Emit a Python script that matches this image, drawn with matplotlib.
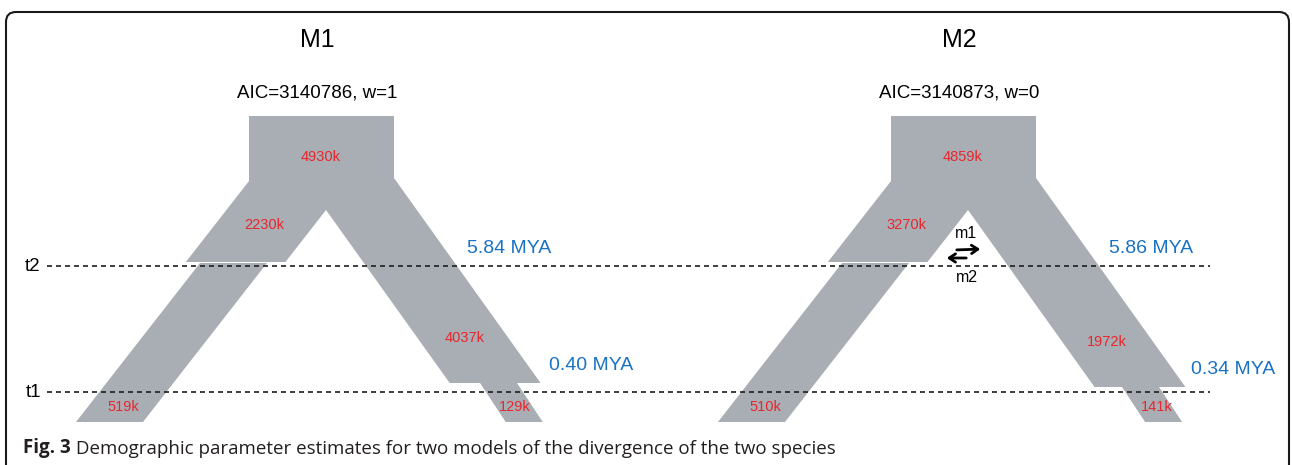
import matplotlib
matplotlib.use("Agg")
import matplotlib.pyplot as plt
from matplotlib.patches import Polygon, FancyBboxPatch

# model estimates
models = ["M1", "M2"]
aic = [3140786, 3140873]
weights = [1, 0]
ne_ancestral = [4930, 4859]      # top block
ne_anc_left = [2230, 3270]       # left branch before t2
ne_left = [519, 510]             # left branch after t2
ne_anc_right = [4037, 1972]      # right branch before t1
ne_right = [129, 141]            # right branch after t1
t2_mya = [5.84, 5.86]
t1_mya = [0.40, 0.34]
has_migration = [False, True]
migration_labels = ["m1", "m2"]
time_labels = ["t2", "t1"]
caption_bold = "Fig. 3"
caption_text = "Demographic parameter estimates for two models of the divergence of the two species"

GRAY = "#a9aeb5"
RED = "#e8262c"
BLUE = "#1a72c4"
FONT = "Liberation Sans"

W, H = 1292, 465
fig = plt.figure(figsize=(W / 100, H / 100), dpi=100)
ax = fig.add_axes([0, 0, 1, 1])
ax.set_xlim(0, W)
ax.set_ylim(H, 0)
ax.axis("off")

# layout (pixels)
panel_x0 = [249, 891]          # left edge of ancestral block
split_y = [383, 387]           # where right branch splits (t1 step)
Y_TOP, Y_T2_STEP, Y_BOT = 116, 262, 422
Y_T2, Y_T1 = 266, 392
SL, SR, SR2 = 0.78, 0.715, 0.66  # branch slopes (dx per dy)


def shapes(x0, ys):
    apex = (x0 + 77, 210)
    upper = [
        (x0, Y_TOP), (x0 + 145, Y_TOP), (x0 + 145, 178),
        (x0 + 145 + SR * (ys - 178), ys),
        (apex[0] + SR * (ys - apex[1]), ys),
        apex,
        (apex[0] - SL * (Y_T2_STEP - apex[1]), Y_T2_STEP),
        (x0 - SL * (Y_T2_STEP - 181), Y_T2_STEP),
        (x0, 181),
    ]
    lo_l = [(x0 - 49, 263), (x0 + 18, 263),
            (x0 + 18 - SL * (Y_BOT - 263), Y_BOT),
            (x0 - 49 - SL * (Y_BOT - 263), Y_BOT)]
    lo_r = [(x0 + 231, ys), (x0 + 268, ys),
            (x0 + 268 + SR2 * (Y_BOT - ys), Y_BOT),
            (x0 + 231 + SR2 * (Y_BOT - ys), Y_BOT)]
    return [upper, lo_l, lo_r]


for i, m in enumerate(models):
    x0, ys = panel_x0[i], split_y[i]
    for poly in shapes(x0, ys):
        ax.add_patch(Polygon(poly, closed=True, fc=GRAY, ec="none", zorder=1))

    ax.text(x0 + 68, 40, m, fontsize=18, family=FONT, ha="center", va="center")
    ax.text(x0 + 68, 93, f"AIC={aic[i]}, w={weights[i]}", fontsize=13.5,
            family=FONT, ha="center", va="center")

    red = dict(fontsize=10.5, family=FONT, color=RED, ha="center", va="center", zorder=3)
    ax.text(x0 + 72, 157, f"{ne_ancestral[i]}k", **red)
    ax.text(x0 + 15, 225, f"{ne_anc_left[i]}k", **red)
    ax.text(x0 + 216, ys - 45, f"{ne_anc_right[i]}k", **red)
    ax.text(x0 - 126, 407, f"{ne_left[i]}k", **red)
    ax.text(x0 + 266, 407, f"{ne_right[i]}k", **red)

    blue = dict(fontsize=14, family=FONT, color=BLUE, ha="left", va="center")
    ax.text(x0 + 218, 248, f"{t2_mya[i]:.2f} MYA", **blue)
    ax.text(x0 + 300, ys - 18, f"{t1_mya[i]:.2f} MYA", **blue)

    if has_migration[i]:
        ax.text(x0 + 75, 233, migration_labels[0], fontsize=11.5, family=FONT,
                ha="center", va="center")
        ax.text(x0 + 76, 277, migration_labels[1], fontsize=11.5, family=FONT,
                ha="center", va="center")
        arr = dict(arrowstyle="->,head_length=0.45,head_width=0.3", lw=2, color="black")
        ax.annotate("", xy=(x0 + 92, 249), xytext=(x0 + 63, 250), arrowprops=arr)
        ax.annotate("", xy=(x0 + 53, 258), xytext=(x0 + 78, 258), arrowprops=arr)

# time lines
lw = 1.2
dash = (0, (5 * 0.72 / lw, 4 * 0.72 / lw))
for lab, y in zip(time_labels, [Y_T2, Y_T1]):
    ax.plot([47, 1210], [y, y], ls=dash, lw=lw, color="#1e1e1e", zorder=2)
    ax.text(33, y, lab, fontsize=13.5, family=FONT, ha="center", va="center")

# frame
ax.add_patch(FancyBboxPatch((6, 12), 1283, 520, boxstyle="round,pad=0,rounding_size=10",
                            fc="none", ec="#1a1a1a", lw=1.5, zorder=5))

# caption
t = ax.text(23, 453, caption_bold, fontsize=13.5, family="Open Sans", weight="bold",
            color="#231f20", ha="left", va="baseline")
ax.annotate(" " + caption_text, xy=(1, 0), xycoords=t, fontsize=13.5, family="Open Sans",
            color="#231f20", ha="left", va="bottom")

fig.savefig("out.png", dpi=100)
